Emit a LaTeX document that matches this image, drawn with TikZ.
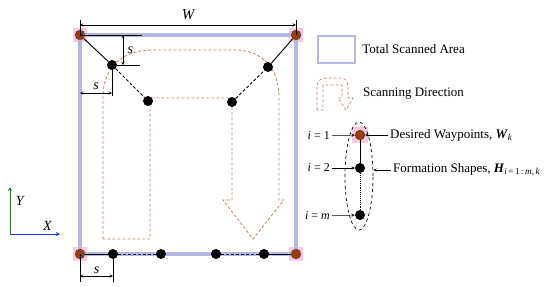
\documentclass[tikz,border=0pt]{standalone}
\usepackage{fontspec}
\setmainfont{Liberation Serif}
\usepackage{xcolor}
\usepackage{tikz}
\usetikzlibrary{positioning,shapes.geometric}

\definecolor{areablue}{RGB}{182,184,228}
\definecolor{wpbrown}{RGB}{150,62,12}
\definecolor{hlpink}{RGB}{250,200,228}
\definecolor{scanbrown}{RGB}{196,128,100}
\definecolor{axisgreen}{RGB}{40,110,40}
\definecolor{axisblue}{RGB}{30,50,220}

\begin{document}
\begin{tikzpicture}[x=1pt, y=-1pt,
  area/.style={draw=areablue, line width=4.5pt},
  hlite/.style={rectangle, fill=hlpink, minimum size=14pt, inner sep=0pt},
  wpt/.style={circle, fill=wpbrown, draw=black!70, line width=0.3pt,
    minimum size=10pt, inner sep=0pt},
  agent/.style={circle, fill=black, minimum size=10pt, inner sep=0pt},
  link/.style={line width=0.9pt},
  dlink/.style={line width=0.9pt, densely dashed},
  scan/.style={draw=scanbrown, densely dashed, line width=0.8pt},
  tick/.style={line width=0.5pt},
  dim/.style={line width=0.5pt, <->, >=stealth},
  arrow/.style={line width=0.5pt, ->, >=stealth},
  lbl/.style={font=\fontsize{13}{15}\selectfont, inner sep=2pt},
  ilbl/.style={font=\fontsize{12}{14}\selectfont, inner sep=2pt, anchor=east}
]
  \useasboundingbox (0,0) rectangle (550,287);

  % corners of the scanned area
  \coordinate (ul) at (80,35);
  \coordinate (ur) at (296,35);
  \coordinate (ll) at (80,254);
  \coordinate (lr) at (296,254);

  \foreach \c in {ul,ur,ll,lr}
    \node[hlite] at (\c) {};
  \draw[area] (ul) -- (ur) -- (lr) -- (ll) -- cycle;

  % scanning direction
  \draw[scan] (103,239) -- (103,97) .. controls (103,68) and (122,50) .. (152,50)
    -- (235,50) .. controls (262,50) and (279,68) .. (279,97) -- (279,200)
    -- (284,200) -- (253,239) -- (223,200) -- (232,200) -- (232,98)
    -- (150,98) -- (150,239) -- cycle;

  % waypoints and formation
  \node[wpt] (wul) at (ul) {};
  \node[wpt] (wur) at (ur) {};
  \node[wpt] (wll) at (ll) {};
  \node[wpt] (wlr) at (lr) {};

  \node[agent] (ag1) at (112,65)  {};
  \node[agent] (ag2) at (148,101) {};
  \node[agent] (ag3) at (232,102) {};
  \node[agent] (ag4) at (268,67)  {};

  \node[agent] (bg1) at (113,254) {};
  \node[agent] (bg2) at (161,254) {};
  \node[agent] (bg3) at (216,254) {};
  \node[agent] (bg4) at (264,254) {};

  \draw[link]  (wul) -- (ag1);
  \draw[dlink] (ag1) -- (ag2);
  \draw[dlink] (ag3) -- (ag4);
  \draw[link]  (ag4) -- (wur);
  \draw[link]  (wll) -- (bg1);
  \draw[dlink] (bg1) -- (bg2);
  \draw[dlink] (bg3) -- (bg4);
  \draw[link]  (bg4) -- (wlr);

  % dimensions
  \coordinate (wa) at (80,20);
  \coordinate (wb) at (296,20);
  \draw[tick] (wa) -- (ul);
  \draw[tick] (wb) -- (ur);
  \draw[dim] (80,25) -- (296,25)
    node[midway, above=2pt, font=\fontsize{15}{17}\selectfont\itshape] (wlab) {W};

  \coordinate (sv1) at (142,35);
  \coordinate (sv2) at (140,65);
  \draw[tick] (ul) -- (sv1);
  \draw[tick] (ag1) -- (sv2);
  \draw[dim] (123,35) -- (123,65)
    node[midway, right=1pt, font=\fontsize{14}{15}\selectfont\itshape] (svlab) {s};

  \coordinate (sh1) at (112,96);
  \draw[tick] (ag1) -- (sh1);
  \draw[dim] (80,93) -- (112,93)
    node[midway, above=0pt, font=\fontsize{14}{15}\selectfont\itshape] (shlab) {s};

  \coordinate (sb1) at (80,282);
  \coordinate (sb2) at (113,282);
  \draw[tick] (ll) -- (sb1);
  \draw[tick] (bg1) -- (sb2);
  \draw[dim] (80,276) -- (113,276)
    node[midway, above=-1pt, font=\fontsize{14}{15}\selectfont\itshape] (sblab) {s};

  % axes
  \coordinate (org) at (10,234);
  \draw[axisgreen, line width=0.9pt, ->, >=stealth] (org) -- (10,187)
    node[pos=0.7, right=2pt, black, font=\fontsize{14}{15}\selectfont\itshape] (ylab) {Y};
  \draw[axisblue, line width=0.9pt, ->, >=stealth] (org) -- (60,234)
    node[pos=0.75, above=0pt, black, font=\fontsize{14}{15}\selectfont\itshape] (xlab) {X};

  % legend
  \node[draw=areablue, line width=2.5pt, minimum width=37pt, minimum height=27pt,
    inner sep=0pt] (lgarea) at (336.5,49.5) {};
  \node[lbl, right=4pt of lgarea] (lgareatxt) {Total Scanned Area};

  \draw[scan, line width=0.6pt] (317,110) -- (317,88) .. controls (317,81) and (320,78) .. (326,78)
    -- (340,78) .. controls (346,78) and (348,81) .. (348,88) -- (348,98)
    -- (353,98) -- (346,110) -- (338,98) -- (342,98) -- (342,85)
    -- (323,85) -- (323,110) -- cycle;
  \node[lbl, anchor=west] (lgscantxt) at (361,94) {Scanning Direction};

  \node[hlite, minimum size=16pt] at (360,135) {};
  \node[wpt] (fw) at (360,135) {};
  \node[agent] (f2) at (360,168) {};
  \node[agent] (fm) at (360,215) {};
  \draw[link] (fw) -- (f2);
  \draw[line width=0.9pt, densely dotted] (f2) -- (fm);
  \node[draw, dashed, ellipse, line width=0.7pt, minimum width=28pt,
    minimum height=108pt] (fell) at (359,176) {};

  \node[ilbl] (i1) at (332,136) {\textit{i} = 1};
  \node[ilbl] (i2) at (332,168) {\textit{i} = 2};
  \node[ilbl] (im) at (332,216) {\textit{i} = \textit{m}};
  \draw[arrow] (i1) -- (fw);
  \draw[arrow] (i2) -- (f2);
  \draw[arrow] (im) -- (fm);

  \node[lbl, anchor=west] (wptxt) at (388,135)
    {Desired Waypoints, \textbf{\textit{W}}\textsubscript{\textit{k}}};
  \draw[arrow] (wptxt.west) -- (fw);
  \node[lbl, anchor=west] (fstxt) at (391,170)
    {Formation Shapes, \textbf{\textit{H}}\textsubscript{\textit{i}\,=\,1\,:\,\textit{m},\,\textit{k}}};
  \draw[arrow] (fstxt.west) -- (fstxt.west -| fell.east);
\end{tikzpicture}
\end{document}
